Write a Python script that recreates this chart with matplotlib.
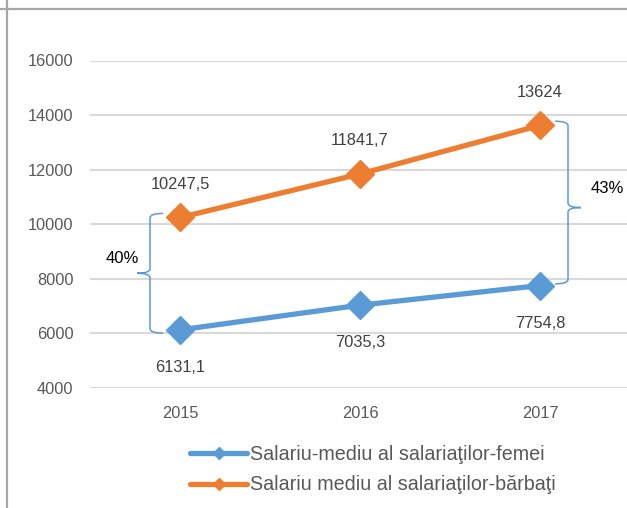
import matplotlib
matplotlib.use("Agg")
import matplotlib.pyplot as plt
from matplotlib.path import Path
from matplotlib.patches import PathPatch
from matplotlib.lines import Line2D

years = ["2015", "2016", "2017"]
femei = [6131.1, 7035.3, 7754.8]
barbati = [10247.5, 11841.7, 13624]
femei_labels = ["6131,1", "7035,3", "7754,8"]
barbati_labels = ["10247,5", "11841,7", "13624"]
gap_labels = ["40%", "43%"]
yticks = [4000, 6000, 8000, 10000, 12000, 14000, 16000]

blue = "#5B9BD5"
orange = "#ED7D31"
font = ["Liberation Sans", "DejaVu Sans"]
plt.rcParams["font.family"] = font

W, H = 627, 508
fig = plt.figure(figsize=(W / 100, H / 100), dpi=100)
# axes in pixel terms: left 90, right 627, top 60.5, bottom 388
ax = fig.add_axes([90 / W, 1 - 388 / H, (627 - 90) / W, (388 - 60.5) / H])

x = list(range(len(years)))
ax.plot(x, femei, color=blue, lw=3.8, marker="D", ms=14.5, zorder=3,
        solid_capstyle="round", label="Salariu-mediu al salariaţilor-femei")
ax.plot(x, barbati, color=orange, lw=3.8, marker="D", ms=14.5, zorder=3,
        solid_capstyle="round", label="Salariu mediu al salariaţilor-bărbaţi")

ax.set_xlim(-0.5, 2.4833)
ax.set_ylim(4000, 16000)
ax.set_yticks(yticks)
ax.set_yticklabels([str(v) for v in yticks])
ax.set_xticks(x)
ax.set_xticklabels(years)
ax.grid(axis="y", color="#d9d9d9", lw=1.5)
ax.set_axisbelow(True)
for s in ax.spines.values():
    s.set_visible(False)
ax.tick_params(length=0, labelsize=11.8, labelcolor="#595959")
ax.tick_params(axis="y", pad=12)
ax.tick_params(axis="x", pad=13)

for i in x:
    ax.annotate(barbati_labels[i], (i, barbati[i]), xytext=(0, 24), textcoords="offset points",
                ha="center", va="center", fontsize=11.8, color="#404040", annotation_clip=False)
    ax.annotate(femei_labels[i], (i, femei[i]), xytext=(0, -27), textcoords="offset points",
                ha="center", va="center", fontsize=11.8, color="#404040", annotation_clip=False)

# px -> data helpers
px_x = (2.4833 + 0.5) / (627 - 90)
px_y = 12000 / (388 - 60.5)


def brace(xc, y0, y1, side, shift=0.0):
    # side=-1: tip points left, side=+1: tip points right
    hw = 13 * px_x  # hook width
    tw = 13 * px_x  # tip width
    c = 4.5 * px_y  # curve height
    ym = (y0 + y1) / 2 + shift
    h = -side * hw
    t = side * tw
    verts = [(xc + h, y1), (xc, y1), (xc, y1 - c),
             (xc, ym + c), (xc, ym), (xc + t, ym),
             (xc, ym), (xc, ym - c),
             (xc, y0 + c), (xc, y0), (xc + h, y0)]
    codes = [Path.MOVETO, Path.CURVE3, Path.CURVE3,
             Path.LINETO, Path.CURVE3, Path.CURVE3,
             Path.CURVE3, Path.CURVE3,
             Path.LINETO, Path.CURVE3, Path.CURVE3]
    ax.add_patch(PathPatch(Path(verts, codes), fill=False, ec=blue, lw=1.1, clip_on=False))
    return xc + t, ym


tx, ty = brace(0 - 30 * px_x, femei[0] - 120, barbati[0] + 150, -1)
ax.text(tx - 15 * px_x, ty + 15 * px_y, gap_labels[0], ha="center", va="center",
        fontsize=12, color="black")
tx, ty = brace(2 + 28 * px_x, femei[2] + 60, barbati[2] + 150, 1, shift=-5 * px_y)
ax.text(tx + 26 * px_x, ty + 19 * px_y, gap_labels[1], ha="center", va="center",
        fontsize=12, color="black", clip_on=False)

leg = ax.legend(loc="upper left", bbox_to_anchor=(190 / W, 1 - 445 / H),
                bbox_transform=fig.transFigure, frameon=False, fontsize=14.2,
                handlelength=2.9, handletextpad=0.15, labelspacing=0.58,
                borderaxespad=0, borderpad=0, labelcolor="#595959")
for hdl in leg.legend_handles:
    hdl.set_markersize(6)

# outer frame lines
fig.add_artist(Line2D([7 / W, 7 / W], [0, 1], transform=fig.transFigure, color="#a6a6a6", lw=1.6))
fig.add_artist(Line2D([0, 1], [1 - 9 / H, 1 - 9 / H], transform=fig.transFigure, color="#a6a6a6", lw=1.6))

fig.savefig("out.png", dpi=100)
